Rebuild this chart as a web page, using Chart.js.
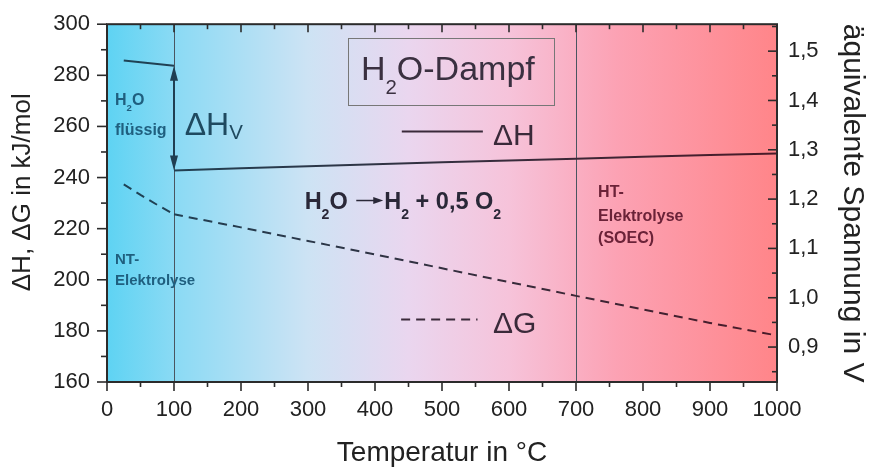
<!DOCTYPE html>
<html lang="de">
<head>
<meta charset="UTF-8">
<title>H2O-Dampf: ΔH und ΔG</title>
<script src="https://cdn.jsdelivr.net/npm/chart.js"></script>
<style>
  html, body { margin: 0; padding: 0; background: #fff; }
  #wrap { width: 870px; height: 471px; }
</style>
</head>
<body>
<div id="wrap"><canvas id="chart" width="870" height="471"></canvas></div>
<script>
  // Temperaturen in °C, Energien in kJ/mol
  const liqTemps = [25, 50, 75, 100];
  const vapTemps = [100, 200, 300, 400, 500, 600, 700, 800, 900, 1000];
  const dHLiquid = [285.8, 285.1, 284.4, 283.7];
  const dHVapour = [242.8, 243.6, 244.4, 245.2, 246.0, 246.7, 247.4, 248.1, 248.8, 249.4];
  const dGLiquid = [237.3, 233.2, 229.3, 225.6];
  const dGVapour = [225.6, 220.5, 215.2, 209.9, 204.5, 199.1, 193.7, 188.4, 183.1, 178.2];

  const tempTicks = [0, 100, 200, 300, 400, 500, 600, 700, 800, 900, 1000];
  const energyTicks = [160, 180, 200, 220, 240, 260, 280, 300];
  const voltTicks = [0.9, 1.0, 1.1, 1.2, 1.3, 1.4, 1.5];
  const phaseLines = [100, 700];
  const kJperVolt = 192.97; // 2F in kJ/(mol V)

  const FONT = '"Liberation Sans", Arial, sans-serif';
  const pts = (xs, ys) => xs.map((x, i) => ({ x: x, y: ys[i] }));

  // text labels, positions in data units (x = °C, y = kJ/mol baseline)
  const labels = [
    { x: 12, y: 268.5, size: 16, bold: true, color: '#1f5f7f', parts: ['H', '_2', 'O'] },
    { x: 12, y: 256.8, size: 16, bold: true, color: '#1f5f7f', parts: ['flüssig'] },
    { x: 116, y: 256.8, size: 32, color: '#1f4a60', sub: 0.13, subSize: 0.64, parts: ['ΔH', '_V'] },
    { x: 379, y: 278.2, size: 34, color: '#3a3040', parts: ['H', '_2', 'O-Dampf'] },
    { x: 576, y: 252.9, size: 30, color: '#3a2a3a', parts: ['ΔH'] },
    { x: 295, y: 227.7, size: 23.5, bold: true, color: '#2a2838', parts: ['H', '_2', 'O ', '->', 'H', '_2', ' + 0,5 O', '_2'] },
    { x: 576, y: 179.0, size: 30, color: '#3a2a3a', parts: ['ΔG'] },
    { x: 12, y: 206.1, size: 15, bold: true, color: '#1f5f7f', parts: ['NT-'] },
    { x: 12, y: 197.9, size: 15, bold: true, color: '#1f5f7f', parts: ['Elektrolyse'] },
    { x: 733, y: 232.3, size: 16, bold: true, color: '#6b2238', parts: ['HT-'] },
    { x: 733, y: 223.0, size: 16, bold: true, color: '#6b2238', parts: ['Elektrolyse'] },
    { x: 733, y: 214.4, size: 16, bold: true, color: '#6b2238', parts: ['(SOEC)'] }
  ];

  function richText(ctx, x, y, lab) {
    let cx = x;
    const sub = lab.sub ?? 0.42, subSize = lab.subSize ?? 0.6;
    ctx.fillStyle = lab.color;
    ctx.strokeStyle = lab.color;
    ctx.textBaseline = 'alphabetic';
    ctx.textAlign = 'left';
    lab.parts.forEach(p => {
      if (p === '->') {
        const ay = y - lab.size * 0.36;
        ctx.lineWidth = 1.5;
        ctx.beginPath(); ctx.moveTo(cx + 2, ay); ctx.lineTo(cx + 21, ay); ctx.stroke();
        ctx.beginPath(); ctx.moveTo(cx + 29, ay); ctx.lineTo(cx + 19, ay - 3.5); ctx.lineTo(cx + 19, ay + 3.5); ctx.fill();
        cx += 30;
        return;
      }
      const isSub = p.startsWith('_');
      const t = isSub ? p.slice(1) : p;
      const fs = isSub ? lab.size * subSize : lab.size;
      ctx.font = (lab.bold ? 'bold ' : '') + fs + 'px ' + FONT;
      ctx.fillText(t, cx, isSub ? y + lab.size * sub : y);
      cx += ctx.measureText(t).width;
    });
  }

  function lineGradient(chart, left, right) {
    const a = chart.chartArea;
    if (!a) return left;
    const g = chart.ctx.createLinearGradient(a.left, 0, a.right, 0);
    g.addColorStop(0, left);
    g.addColorStop(1, right);
    return g;
  }

  const decor = {
    id: 'decor',
    beforeDatasetsDraw(chart) {
      const { ctx, chartArea: a, scales: { x } } = chart;
      const g = ctx.createLinearGradient(a.left, 0, a.right, 0);
      g.addColorStop(0, '#5ed3f3');
      g.addColorStop(0.1, '#8adaf4');
      g.addColorStop(0.3, '#cde3f4');
      g.addColorStop(0.45, '#ead6ef');
      g.addColorStop(0.6, '#f6c3da');
      g.addColorStop(0.76, '#fca2b4');
      g.addColorStop(1, '#ff8589');
      ctx.save();
      ctx.fillStyle = g;
      ctx.fillRect(a.left, a.top, a.right - a.left, a.bottom - a.top);
      ctx.strokeStyle = '#4a5560';
      ctx.lineWidth = 1;
      phaseLines.forEach(t => {
        const px = Math.round(x.getPixelForValue(t)) + 0.5;
        ctx.beginPath(); ctx.moveTo(px, a.top); ctx.lineTo(px, a.bottom); ctx.stroke();
      });
      ctx.restore();
    },
    afterDatasetsDraw(chart) {
      const { ctx, chartArea: a, scales: { x, y, y2 } } = chart;
      ctx.save();
      // ΔH_V double arrow
      const ax = x.getPixelForValue(phaseLines[0]);
      const y0 = y.getPixelForValue(dHVapour[0]);
      const y1 = y.getPixelForValue(dHLiquid[dHLiquid.length - 1]);
      ctx.strokeStyle = '#1f3f52';
      ctx.fillStyle = '#1f3f52';
      ctx.lineWidth = 2;
      ctx.beginPath(); ctx.moveTo(ax, y0 - 10); ctx.lineTo(ax, y1 + 10); ctx.stroke();
      [[y0, -1], [y1, 1]].forEach(([py, d]) => {
        ctx.beginPath();
        ctx.moveTo(ax, py);
        ctx.lineTo(ax - 4, py + d * 15);
        ctx.lineTo(ax + 4, py + d * 15);
        ctx.closePath(); ctx.fill();
      });

      // box around H2O-Dampf
      ctx.strokeStyle = '#777';
      ctx.lineWidth = 1;
      const bx0 = x.getPixelForValue(360), bx1 = x.getPixelForValue(668);
      const by0 = y.getPixelForValue(294.6), by1 = y.getPixelForValue(268.5);
      ctx.strokeRect(Math.round(bx0) + 0.5, Math.round(by0) + 0.5, Math.round(bx1 - bx0), Math.round(by1 - by0));

      // key lines
      ctx.strokeStyle = '#3a2a3a';
      ctx.lineWidth = 2;
      ctx.beginPath();
      ctx.moveTo(x.getPixelForValue(440), y.getPixelForValue(258));
      ctx.lineTo(x.getPixelForValue(561), y.getPixelForValue(258));
      ctx.stroke();
      ctx.setLineDash([9, 6]);
      ctx.beginPath();
      ctx.moveTo(x.getPixelForValue(439), y.getPixelForValue(184.5));
      ctx.lineTo(x.getPixelForValue(553), y.getPixelForValue(184.5));
      ctx.stroke();
      ctx.setLineDash([]);

      labels.forEach(l => richText(ctx, x.getPixelForValue(l.x), y.getPixelForValue(l.y), l));

      // frame and tick marks
      ctx.strokeStyle = '#2b2b2b';
      ctx.lineWidth = 2;
      ctx.strokeRect(a.left, a.top, a.right - a.left, a.bottom - a.top);
      ctx.lineWidth = 1.6;
      const tick = (x0, y0, x1, y1) => { ctx.beginPath(); ctx.moveTo(x0, y0); ctx.lineTo(x1, y1); ctx.stroke(); };
      for (let t = 0; t <= 1000; t += 50) {
        const px = x.getPixelForValue(t);
        const major = t % 100 === 0;
        tick(px, a.bottom, px, a.bottom + (major ? 9 : 5));
        tick(px, a.top, px, a.top + (major ? 8 : 5));
      }
      for (let v = 160; v <= 300; v += 10) {
        const py = y.getPixelForValue(v);
        tick(a.left, py, a.left - (v % 20 === 0 ? 10 : 6), py);
      }
      for (let i = 17; i <= 31; i++) {
        const py = y2.getPixelForValue(i * 0.05);
        tick(a.right, py, a.right - (i % 2 === 0 ? 9 : 5), py);
      }
      ctx.restore();
    }
  };

  const tickFont = { family: FONT, size: 22 };
  const axisGrid = { display: true, drawOnChartArea: false, drawTicks: true, tickLength: 10, tickColor: 'rgba(0,0,0,0)' };

  new Chart(document.getElementById('chart'), {
    type: 'line',
    data: {
      datasets: [
        { data: pts(liqTemps, dHLiquid), borderWidth: 2, borderColor: c => lineGradient(c.chart, '#1d4457', '#4a1a28') },
        { data: pts(vapTemps, dHVapour), borderWidth: 2, borderColor: c => lineGradient(c.chart, '#1d4457', '#4a1a28') },
        { data: pts(liqTemps, dGLiquid), borderWidth: 2, borderDash: [9, 6], borderColor: c => lineGradient(c.chart, '#1d4457', '#4a1a28') },
        { data: pts(vapTemps, dGVapour), borderWidth: 2, borderDash: [9, 6], borderColor: c => lineGradient(c.chart, '#1d4457', '#4a1a28') }
      ]
    },
    options: {
      responsive: false,
      animation: false,
      events: [],
      layout: { padding: { top: 22, left: 0, right: 0, bottom: 0 } },
      elements: { point: { radius: 0 }, line: { tension: 0 } },
      plugins: { legend: { display: false }, tooltip: { enabled: false } },
      scales: {
        x: {
          type: 'linear', position: 'bottom', min: 0, max: 1000,
          afterBuildTicks: s => { s.ticks = tempTicks.map(v => ({ value: v })); },
          afterFit: s => { s.height = 89; },
          grid: { ...axisGrid, tickLength: 9 },
          border: { display: false },
          ticks: { font: tickFont, color: '#222', padding: 6, maxRotation: 0, autoSkip: false, callback: v => String(v) },
          title: { display: true, text: 'Temperatur in °C', font: { family: FONT, size: 28 }, color: '#222', padding: { top: 0, bottom: 1 } }
        },
        y: {
          type: 'linear', position: 'left', min: 160, max: 300,
          afterBuildTicks: s => { s.ticks = energyTicks.map(v => ({ value: v })); },
          afterFit: s => { s.width = 107; },
          grid: axisGrid,
          border: { display: false },
          ticks: { font: tickFont, color: '#222', padding: 7 },
          title: { display: true, text: '   ΔH, ΔG in kJ/mol', font: { family: FONT, size: 26 }, color: '#222', padding: { top: 7, bottom: 0 } }
        },
        y2: {
          type: 'linear', position: 'right', min: 160 / kJperVolt, max: 300 / kJperVolt,
          afterBuildTicks: s => { s.ticks = voltTicks.map(v => ({ value: v })); },
          afterFit: s => { s.width = 93; },
          grid: { display: false, drawTicks: false },
          border: { display: false },
          ticks: { font: tickFont, color: '#222', padding: 11, callback: v => v.toFixed(1).replace('.', ',') },
          title: { display: true, text: 'äquivalente Spannung in V', font: { family: FONT, size: 30 }, color: '#222', padding: { top: 0, bottom: 0 } }
        }
      }
    },
    plugins: [decor]
  });
</script>
</body>
</html>
